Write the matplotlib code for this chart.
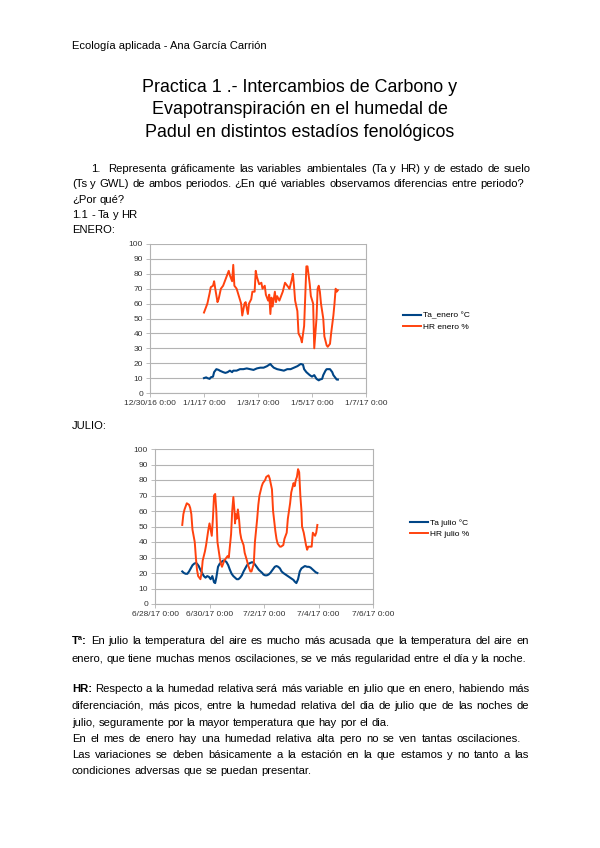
import matplotlib
matplotlib.use("Agg")
import matplotlib.pyplot as plt
import pandas as pd
from matplotlib.font_manager import FontProperties
from matplotlib.backends.backend_agg import get_hinting_flag

W, H = 600, 848
plt.rcParams['font.family'] = 'Liberation Sans'

# ---------------- ENERO (horas desde 1/1/17 0:00) ----------------
hr_enero_h = [0, 2, 3, 5, 6, 8, 9, 10, 12, 13, 15, 17, 18, 20, 22, 23, 25, 26, 27, 29,
              31, 33, 34, 36, 37, 39, 40, 42, 43, 45, 46, 47, 49, 51, 52, 54, 55, 57, 58, 59,
              60, 61, 63, 64, 65, 67, 69, 70, 72, 73, 75, 76, 78, 79, 80, 81, 83, 84, 86, 87,
              89, 90, 91, 92, 94, 95, 97, 98, 100, 101, 102, 103, 104, 106, 107, 109, 110, 112,
              113, 115, 116, 117, 118, 119]
hr_enero = [54, 58, 60, 67, 71, 72, 75, 70, 61, 63, 70, 72, 74, 78, 82, 79, 75, 86, 72, 70,
            65, 60, 52, 60, 61, 53, 60, 63, 68, 68, 82, 78, 73, 74, 70, 72, 66, 62, 66, 53,
            64, 58, 68, 61, 65, 62, 66, 68, 74, 73, 71, 70, 76, 80, 72, 62, 55, 40, 37, 34,
            45, 65, 85, 85, 73, 65, 60, 30, 50, 70, 72, 68, 60, 50, 38, 32, 31, 33,
            40, 52, 60, 70, 68, 69]
ta_enero_h = [0, 2, 3, 5, 6, 8, 9, 11, 13, 14, 17, 19, 21, 23, 25, 26, 29, 32, 35, 38,
              41, 44, 47, 50, 53, 56, 59, 60, 62, 65, 68, 71, 74, 77, 80, 83, 86, 88, 89, 91,
              94, 96, 98, 100, 102, 103, 105, 106, 108, 109, 112, 114, 115, 117, 118, 119]
ta_enero = [10, 10.5, 10, 9.5, 10.5, 11, 14, 16, 15.5, 15, 14, 13.5, 14, 15, 14, 15, 15, 16, 16, 16.5,
            16, 15.5, 16.5, 17, 17, 18, 19.5, 18.5, 17, 16, 15.5, 15, 16, 16, 17, 18, 19.5, 19, 16, 14,
            12, 11, 12, 9.5, 8.5, 9, 9.5, 12, 15, 16, 16, 14, 12, 10, 9, 9]

# ---------------- JULIO (horas desde 6/29/17 0:00) ----------------
hr_julio_h = [0, 1, 2, 3, 4, 6, 7, 8, 9, 11, 12, 13, 14, 16, 17, 18, 20, 21, 23, 24,
              26, 27, 28, 29, 30, 31, 33, 34, 35, 37, 38, 40, 41, 43, 44, 45, 46, 46.5, 47, 48,
              49, 50, 51, 52, 54, 55, 57, 58, 60, 61, 63, 64, 66, 67, 68, 70, 71, 73, 74, 76,
              77, 79, 80, 82, 83, 84, 86, 87, 89, 90, 92, 93, 95, 96, 98, 99, 100, 101, 102, 103,
              104, 105, 105.5, 107, 108, 109, 110, 111, 113, 114, 115, 117, 118, 119]
hr_julio = [51, 58, 61, 63, 65, 64, 62, 58, 48, 40, 30, 22, 18, 16, 20, 28, 34, 38, 48, 52,
            44, 55, 70, 71, 60, 40, 30, 26, 24, 28, 29, 31, 30, 45, 60, 69, 60, 52, 58, 55,
            61, 55, 46, 42, 38, 33, 28, 25, 21, 21, 26, 40, 55, 64, 70, 76, 78, 80, 82, 83,
            81, 74, 60, 47, 42, 39, 37, 37, 38, 42, 46, 55, 65, 72, 78, 76, 80, 82, 87, 85,
            70, 60, 50, 46, 42, 38, 35, 37, 37, 37, 46, 44, 46, 51]
ta_julio_h = [0, 1.5, 3, 4.5, 6, 7.5, 9, 10.5, 12, 13, 14.5, 16, 17.5, 19, 20.5, 22, 23.5, 25, 26.5, 28,
              29, 30, 31.5, 33, 34.5, 36, 37.5, 39, 40.5, 42, 43.5, 45, 46.5, 48, 49.5, 51, 52.5, 54, 55.5, 57,
              58.5, 60, 61.5, 63, 64.5, 66, 67.5, 69, 70.5, 71.5, 73, 74.5, 76, 77.5, 79, 80.5, 81.5, 83, 84.5, 86,
              87.5, 89, 90, 92, 93, 95, 96, 98, 99, 100.5, 102, 103.5, 105, 107, 108, 110, 111.5, 113, 114.5, 116,
              117.5, 119]
ta_julio = [21, 20, 19.5, 19.5, 21, 23, 25, 26, 26.5, 26, 24.5, 22, 20, 18, 17, 18, 17.5, 16, 18, 14,
            13.5, 17, 24, 26, 27, 28, 28, 27, 25, 22, 19.5, 18, 17, 16, 16, 17, 18.5, 21, 23, 25,
            26, 26.5, 27, 26.5, 25, 23.5, 22, 21, 20, 19, 18.5, 18.5, 19, 20, 21.5, 23, 24, 24.5, 24, 23,
            21, 20, 19.5, 18.5, 18, 17, 16.5, 15.5, 14.5, 13.5, 16, 21, 23, 24, 24.5, 24, 24, 23.5, 22.5, 21.5,
            20.5, 20]

BLUE = '#004586'
ORANGE = '#ff420e'
GRID = '#b3b3b3'
TXT = 8.1


def px(x, y):
    return x / W, 1 - y / H


def fmt_fecha(d):
    return f"{d.month}/{d.day}/{d:%y} {d.hour}:{d:%M}"


def chart(fig, rect, inicio, ta_h, ta, hr_h, hr, lab_ta, lab_hr, xlim, leg_xy):
    left, top, right, bottom = rect
    ax = fig.add_axes([left / W, 1 - bottom / H, (right - left) / W, (bottom - top) / H])
    t0 = pd.Timestamp(inicio)
    ax.plot(t0 + pd.to_timedelta(ta_h, unit='h'), ta, color=BLUE, lw=1.5, label=lab_ta)
    ax.plot(t0 + pd.to_timedelta(hr_h, unit='h'), hr, color=ORANGE, lw=1.4, label=lab_hr)
    ticks = pd.date_range(xlim[0], xlim[1], freq='2D')
    ax.set_xlim(ticks[0], ticks[-1])
    ax.set_xticks(ticks)
    ax.set_xticklabels([fmt_fecha(d) for d in ticks])
    ax.set_ylim(0, 100)
    ax.set_yticks(range(0, 101, 10))
    ax.yaxis.grid(True, color=GRID, lw=0.8)
    ax.set_axisbelow(True)
    for s in ['left', 'bottom', 'right']:
        ax.spines[s].set_color(GRID)
        ax.spines[s].set_linewidth(0.8)
    ax.spines['top'].set_visible(False)
    ax.tick_params(axis='both', labelsize=6, colors='#333333', length=3, width=0.6, pad=2)
    ax.tick_params(axis='both', color=GRID)
    ax.legend(loc='center left', bbox_to_anchor=px(*leg_xy), bbox_transform=fig.transFigure,
              frameon=False, fontsize=6, handlelength=2.1, handletextpad=0.35,
              borderpad=0, borderaxespad=0, labelspacing=0.45)
    return ax


def ajuste_base(r, palabra, prop):
    # corrige el redondeo de Agg para que todas las palabras compartan linea base
    font = r._prepare_font(prop)
    font.set_text(palabra, 0, flags=get_hinting_flag())
    w, h = font.get_width_height()
    d = font.get_descent()
    alto = h // 64 + 2
    fila = int((h - d) / 64) + 1
    return alto - fila - 1 - d / 64


def linea(fig, y, texto, x0=72, x1=None, size=TXT, negrita=0):
    r = fig.canvas.get_renderer()
    palabras = texto.split(' ')
    props = [FontProperties(family='Liberation Sans', size=size,
                            weight='bold' if i < negrita else 'normal') for i in range(len(palabras))]
    anchos = [r.get_text_width_height_descent(p, fp, ismath=False)[0] for p, fp in zip(palabras, props)]
    if x1 is None or len(palabras) < 2:
        p0 = props[-1]
        hueco = (r.get_text_width_height_descent('a a', p0, ismath=False)[0]
                 - r.get_text_width_height_descent('aa', p0, ismath=False)[0])
    else:
        hueco = (x1 - x0 - sum(anchos)) / (len(palabras) - 1)
    x = x0
    for p, fp, a in zip(palabras, props, anchos):
        c = ajuste_base(r, p, fp)
        fig.text(x / W, (H - y - c) / H, p, fontproperties=fp, va='baseline', ha='left')
        x += a + hueco


fig = plt.figure(figsize=(W / 100, H / 100), dpi=100)
fig.patch.set_facecolor('white')

# cabecera y titulo
fig.text(*px(72, 49), 'Ecología aplicada - Ana García Carrión', fontsize=8.0, va='baseline')
for y, t in [(92, 'Practica 1 .- Intercambios de Carbono y'),
             (114, 'Evapotranspiración en el humedal de'),
             (137, 'Padul en distintos estadíos fenológicos')]:
    fig.text(*px(300, y), t, fontsize=12.9, ha='center', va='baseline')

linea(fig, 172, '1.', x0=91)
linea(fig, 172, 'Representa gráficamente las variables ambientales (Ta y HR) y de estado de suelo', x0=108, x1=531)
linea(fig, 187, '(Ts y GWL) de ambos periodos. ¿En qué variables observamos diferencias entre periodo?', x1=524)
linea(fig, 203, '¿Por qué?')
linea(fig, 218, '1.1 - Ta y HR')
linea(fig, 233, 'ENERO:')

chart(fig, (150, 244, 366, 393), '2017-01-01', ta_enero_h, ta_enero, hr_enero_h, hr_enero,
      'Ta_enero °C', 'HR enero %', ('2016-12-30', '2017-01-07'), (403, 321.5))

linea(fig, 429, 'JULIO:')

chart(fig, (155, 449, 373, 604), '2017-06-29', ta_julio_h, ta_julio, hr_julio_h, hr_julio,
      'Ta julio °C', 'HR julio %', ('2017-06-28', '2017-07-06'), (410, 528.5))

linea(fig, 644, 'Tª: En julio la temperatura del aire es mucho más acusada que la temperatura del aire en', x1=529, negrita=1)
linea(fig, 662, 'enero, que tiene muchas menos oscilaciones, se ve más regularidad entre el día y la noche.', x1=526)
linea(fig, 692, 'HR: Respecto a la humedad relativa será más variable en julio que en enero, habiendo más', x1=529, negrita=1)
linea(fig, 709, 'diferenciación, más picos, entre la humedad relativa del dia de julio que de las noches de', x1=529)
linea(fig, 726, 'julio, seguramente por la mayor temperatura que hay por el dia.')
linea(fig, 742, 'En el mes de enero hay una humedad relativa alta pero no se ven tantas oscilaciones.', x1=521)
linea(fig, 758, 'Las variaciones se deben básicamente a la estación en la que estamos y no tanto a las', x1=529)
linea(fig, 774, 'condiciones adversas que se puedan presentar.')

fig.savefig('out.png', dpi=100, facecolor='white')
